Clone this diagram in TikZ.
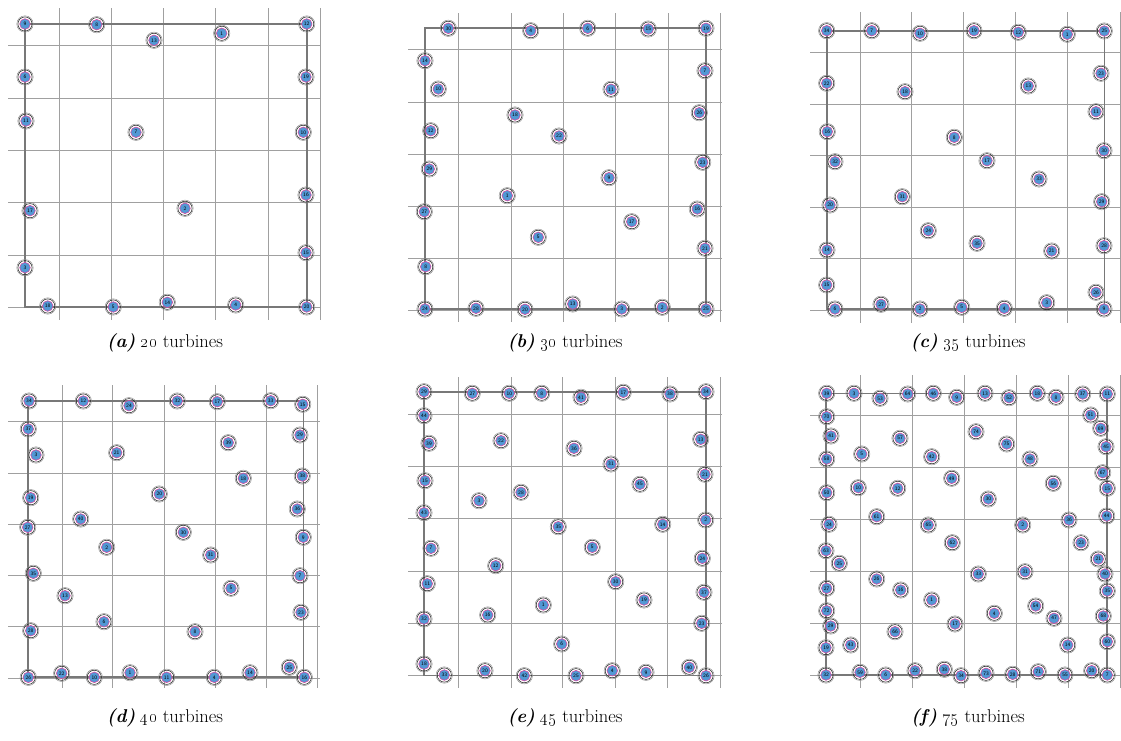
\documentclass[tikz,border=0pt]{standalone}
\definecolor{tblue}{RGB}{82,152,212}
\definecolor{tpink}{RGB}{214,70,160}
\definecolor{gridc}{RGB}{160,160,160}
\definecolor{bndc}{RGB}{120,120,120}
\begin{document}
\begin{tikzpicture}[x=1pt,y=-1pt,
  gridline/.style={draw=gridc,line width=0.8pt},
  bnd/.style={draw=bndc,line width=1.9pt},
  turb/.style={circle,fill=tblue,draw=tpink,line width=0.55pt,minimum size=10.6pt,inner sep=0pt,
    font=\sffamily\fontsize{5.2}{5.2}\selectfont,text=black},
  ringa/.style={draw=black!85,line width=0.55pt},
  ringb/.style={draw=black!45,line width=0.45pt},
  captext/.style={font=\fontsize{18.5}{21}\selectfont,inner sep=0pt,anchor=base}]
\useasboundingbox (0,0) rectangle (1121,740);
\fill[white] (0,0) rectangle (1121,740);
% ---------- grids ----------
\foreach \v in {59,111,163.3,215.7,268.3,320} \draw[gridline] (\v,8) -- (\v,320);
\foreach \h in {45.7,98.3,150.3,202.7,255,307.7} \draw[gridline] (8,\h) -- (320,\h);
\foreach \v in {458.3,511,563.3,615.7,668.3,720} \draw[gridline] (\v,13) -- (\v,322);
\foreach \h in {49.3,102,154.3,206.3,258.3,310} \draw[gridline] (408,\h) -- (722,\h);
\foreach \v in {860,911.7,963.3,1015.7,1067.7,1120} \draw[gridline] (\v,12) -- (\v,323);
\foreach \h in {52.3,104.3,155.7,207,258.3,310} \draw[gridline] (810,\h) -- (1121,\h);
\foreach \v in {62.3,112.7,164.3,215.7,266.7,317.3} \draw[gridline] (\v,385) -- (\v,688);
\foreach \h in {421.7,473.3,524.3,575.7,626.7,678.3} \draw[gridline] (8,\h) -- (320,\h);
\foreach \v in {458.3,511,562.7,615,667.7,720} \draw[gridline] (\v,377) -- (\v,688);
\foreach \h in {414,466,518.3,571,623.3,675.7} \draw[gridline] (408,\h) -- (722,\h);
\foreach \v in {860,912.3,964.3,1016.7,1068.3,1120} \draw[gridline] (\v,375) -- (\v,688);
\foreach \h in {415.7,467.3,519.3,571,623.3,675} \draw[gridline] (810,\h) -- (1121,\h);
% ---------- boundaries ----------
\draw[bnd] (25,24) rectangle (306.7,306.7);
\draw[bnd] (425,28.3) rectangle (706.3,309);
\draw[bnd] (826.7,30.7) rectangle (1104.5,309);
\draw[bnd] (28.3,401) rectangle (303.5,677.3);
\draw[bnd] (424,391.7) rectangle (706,675.5);
\draw[bnd] (826.3,393.5) rectangle (1107.3,675);
% ---------- turbines ----------
\foreach \x/\y/\n in {25/24/9,96.7/24.7/8,154/40.3/13,221.7/33.3/1,306.7/24/12,25/77/6,306/77/19,26/121/11,
  136/132.3/7,303.3/132.3/10,30/210.7/17,185/208.3/2,306/195/16,25/267.7/3,306/252.7/15,47.7/306/18,
  113.3/307/5,167.3/302.3/14,235.7/305/4,306.7/307/20}{
  \node[turb] (a\n) at (\x,\y) {\n};
  \draw[ringa] (a\n.center) circle[radius=7.1];
  \draw[ringb] (a\n.center) circle[radius=8.2];}
\foreach \x/\y/\n in {448.3/28.3/30,530.7/30.7/4,587.7/28.3/6,648.3/29/15,706/28.3/19,425/60.7/14,705/70.7/7,
  438.3/89/10,611/89.3/11,515/115/18,699.3/112.7/26,430.7/130.7/12,559/136/22,702.7/162.3/23,429.3/169/29,
  609/177.7/9,507.3/195.7/1,424.3/211.7/27,697.3/209/16,631.7/221.7/17,538.3/237.3/5,705/248.3/21,
  425.7/266.7/8,425/309/24,476/308.3/28,525/309.3/20,572.7/304/13,621.7/309/3,662.3/307.3/2,706/309/25}{
  \node[turb] (b\n) at (\x,\y) {\n};
  \draw[ringa] (b\n.center) circle[radius=7.1];
  \draw[ringb] (b\n.center) circle[radius=8.2];}
\foreach \x/\y/\n in {826.7/30.7/34,871.7/30.7/7,920/33.3/10,974/30.7/19,1018.3/32.3/12,1067.3/34.3/1,
  1104.3/31/25,826.7/83.3/22,1101/73.3/23,905/91.7/18,1028.3/86/13,827.3/131.7/16,1096/111.7/11,
  954.3/137.3/8,1104/150.7/30,835/161.7/32,987/160.7/17,1039/179/33,902.3/196.7/31,830/205/20,
  1101.7/201.7/29,928.3/230.7/24,977/243.3/35,1051.7/251/21,827/250/14,1104/245.7/28,826.7/285/15,
  1096/292.3/26,835/309/6,881/304.3/27,920/309/2,961.7/307.3/5,1004.3/308.3/4,1046.7/302.7/3,1104/309/9}{
  \node[turb] (c\n) at (\x,\y) {\n};
  \draw[ringa] (c\n.center) circle[radius=7.1];
  \draw[ringb] (c\n.center) circle[radius=8.2];}
\foreach \x/\y/\n in {29/401/34,83.3/401/12,129/405.7/24,177.3/401/32,217.3/401.7/17,270.7/400.7/33,
  302.7/404.3/15,28.3/429/37,300/435/29,228.3/442.7/39,36/455/3,116.7/452.7/21,243.3/478.3/18,
  302.3/476/38,30.7/497.7/19,159.3/494/20,297.3/509/36,80.7/519/40,27.7/527.3/27,183.3/532.3/30,
  303.3/537.3/9,106.7/547.3/2,210.7/555/31,33.3/573.3/35,300/575.7/7,65/595.7/13,231/588.3/5,
  301/612.3/23,104/621.7/6,30.7/630.7/28,195/631.7/8,28.3/677.3/26,61.7/673.3/22,94.3/677.3/10,
  130/672.7/1,166.7/677.3/11,214.3/677.3/4,250/672.7/14,289.3/667.3/25,304.3/677.3/16}{
  \node[turb] (d\n) at (\x,\y) {\n};
  \draw[ringa] (d\n.center) circle[radius=7.1];
  \draw[ringb] (d\n.center) circle[radius=8.2];}
\foreach \x/\y/\n in {424/391.7/29,472.3/393.3/27,509.3/393.3/10,541.7/393.3/8,581/397.3/41,623.3/392.3/17,
  670/394/38,706/391.7/34,424/415.7/44,429/443.3/39,501/440.7/22,574/448.3/36,700.7/439.3/13,
  611/464/31,425/480.7/15,521/492.3/28,640/484.3/45,705/474.3/21,479/500.7/3,424/512.7/43,
  558.3/526.7/35,662.7/524.3/14,705.7/520/2,431/548.3/7,592.3/547.3/5,702.3/558.3/24,495.7/565.7/12,
  427.3/583.7/11,615.7/581.7/30,704/592.3/37,644/600/19,543.3/605/1,487.7/615/16,424/619/32,
  701.7/623.3/23,561.7/644/6,424/664/18,444.3/675/33,485/670.7/20,524.3/675.7/42,576/675.7/25,
  612.3/670.7/4,646/672.3/9,689.3/667.3/40,706/675.7/26}{
  \node[turb] (e\n) at (\x,\y) {\n};
  \draw[ringa] (e\n.center) circle[radius=7.1];
  \draw[ringb] (e\n.center) circle[radius=8.2];}
\foreach \x/\y/\n in {826.7/393.3/39,854/393.3/3,880/398.3/53,907.7/394/64,933.3/393.3/46,956.7/397.3/9,
  985/393.3/13,1009/397.7/52,1037.3/393.3/18,1056/397.3/8,1082.7/394/37,1107.3/394/11,826.7/416.7/70,
  1090.7/415/51,1100.7/428.3/69,831/436/41,900/438.3/57,976/431.7/74,1006.7/444/75,1106/446.7/45,
  861.7/454/5,931.7/456.7/42,826.7/459/58,1030/459/48,951.7/478.3/49,1102.7/472.7/67,1053.3/483.3/56,
  858.3/487.7/10,897.7/488.3/12,1107.3/488.3/15,826.7/492.7/50,988.3/499/30,876.7/516.7/61,
  1106.7/516/44,1069/520/36,829/524.3/24,928.3/525/65,1022.7/525/2,952.3/542.7/62,1081/542.7/23,
  826/550.7/63,1098.3/559/21,839.3/563.3/25,978.3/574/33,1025/571.7/31,1105/574/40,876.7/579/26,
  826.7/588.3/27,900.7/590/16,1107.3/591/35,931.7/600/1,1035.7/606/54,826.7/610.7/72,994.3/613.3/4,
  1054/618.3/47,1103.3/616/68,955/624/17,830.7/626/29,895/631.7/66,1067.7/645/14,850.7/645/43,
  1107.3/641.7/60,826/647.7/19,826/675/32,860/672.3/59,885.7/675/6,915/670.7/22,944.3/669.3/38,
  961/675.7/34,986/673.3/73,1012.7/674.3/28,1038.3/671.7/71,1065/675/55,1091.7/670.7/20,1107.3/675/7}{
  \node[turb] (f\n) at (\x,\y) {\n};
  \draw[ringa] (f\n.center) circle[radius=7.1];
  \draw[ringb] (f\n.center) circle[radius=8.2];}
% ---------- captions ----------
\node[captext] (capa) at (165,347) {\textbf{\textit{(a)}} \oldstylenums{20} turbines};
\node[captext] (capb) at (565,347) {\textbf{\textit{(b)}} \oldstylenums{30} turbines};
\node[captext] (capc) at (968,347) {\textbf{\textit{(c)}} \oldstylenums{35} turbines};
\node[captext] (capd) at (165,722) {\textbf{\textit{(d)}} \oldstylenums{40} turbines};
\node[captext] (cape) at (565,722) {\textbf{\textit{(e)}} \oldstylenums{45} turbines};
\node[captext] (capf) at (968,722) {\textbf{\textit{(f)}} \oldstylenums{75} turbines};
\end{tikzpicture}
\end{document}
